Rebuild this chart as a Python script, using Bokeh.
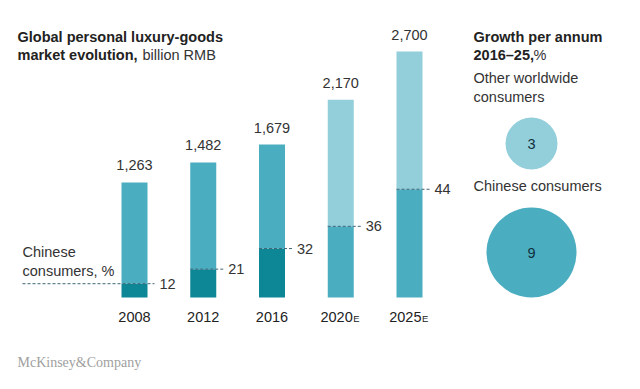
from bokeh.plotting import figure
from bokeh.models import Range1d, ColumnDataSource
from bokeh.core.properties import value
from bokeh.embed import file_html
from bokeh.resources import INLINE

# ---- data ----
years = ["2008", "2012", "2016", "2020", "2025"]
is_estimate = [False, False, False, True, True]
totals = [1263, 1482, 1679, 2170, 2700]          # billion RMB
chinese_share = [12, 21, 32, 36, 44]              # % of total
total_labels = ["1,263", "1,482", "1,679", "2,170", "2,700"]
growth_groups = ["Other worldwide consumers", "Chinese consumers"]
growth_values = [3, 9]                            # % per annum 2016-25

# ---- layout constants (pixels) ----
W, H = 624, 373
SLOT = 68.75          # px per bar slot
X_FIRST = 134         # px of first bar centre
BASE_PX = 297         # px (from top) of y = 0
VPP = 2700 / 246      # value per pixel
BAR_W = 26 / SLOT
SH = -5               # baseline correction for alphabetic texts

def xd(px):
    return (px - X_FIRST) / SLOT

def yd(py):
    return (BASE_PX - py) * VPP

DARK = "#0d8796"
MED = "#4badc0"
LIGHT = "#93cedb"
TXT = "#333333"
BOLD_TXT = "#222222"
FONT = value("Liberation Sans")
FS = "14.5px"

p = figure(width=W, height=H, x_range=Range1d(xd(0), xd(W)), y_range=Range1d(yd(H), yd(0)),
           x_axis_type=None, y_axis_type=None, toolbar_location=None, output_backend="svg",
           min_border=0, outline_line_color=None)
p.grid.visible = False
p.background_fill_color = "white"

xs = list(range(len(years)))
split = [t * s / 100 for t, s in zip(totals, chinese_share)]
src = ColumnDataSource(dict(
    x=xs, total=totals, split=split, zero=[0] * len(xs),
    top_col=[LIGHT if e else MED for e in is_estimate],
    bot_col=[MED if e else DARK for e in is_estimate],
    tlab=total_labels, share=[str(s) for s in chinese_share],
    year=years,
))

p.vbar(x="x", width=BAR_W, bottom="zero", top="split", fill_color="bot_col", line_color=None, source=src)
p.vbar(x="x", width=BAR_W, bottom="split", top="total", fill_color="top_col", line_color=None, source=src)

# dashed share lines
x0s = [x - BAR_W / 2 for x in xs]
x0s[0] = xd(22)
x1s = [x + BAR_W / 2 + 7 / SLOT for x in xs]
p.segment(x0=x0s, y0=split, x1=x1s, y1=split, line_color="#3f6676", line_width=1, line_dash="3 2")

# share labels
p.text(x="x", y="split", text="share", source=src, x_offset=25, text_align="left",
       text_baseline="middle", text_font=FONT, text_font_size=FS, text_color=TXT)

# total labels
p.text(x="x", y="total", text="tlab", source=src, y_offset=-12 + SH, text_align="center",
       text_baseline="alphabetic", text_font=FONT, text_font_size=FS, text_color=TXT)

# year labels
act = [i for i, e in enumerate(is_estimate) if not e]
est = [i for i, e in enumerate(is_estimate) if e]
p.text(x=act, y=[0] * len(act), text=[years[i] for i in act], y_offset=24 + SH, text_align="center",
       text_baseline="alphabetic", text_font=FONT, text_font_size=FS, text_color=BOLD_TXT)
p.text(x=est, y=[0] * len(est), text=[years[i] for i in est], y_offset=24 + SH, x_offset=12,
       text_align="right", text_baseline="alphabetic", text_font=FONT, text_font_size=FS,
       text_color=BOLD_TXT)
p.text(x=est, y=[0] * len(est), text=["E"] * len(est), y_offset=24 + SH + 1.5, x_offset=12.5,
       text_align="left", text_baseline="alphabetic", text_font=FONT, text_font_size="9.5px",
       text_color=BOLD_TXT)

# "Chinese consumers, %" label
p.text(x=[xd(22)] * 2, y=[yd(256 + SH), yd(275.7 + SH)], text=["Chinese", "consumers, %"],
       text_align="left", text_baseline="alphabetic", text_font=FONT, text_font_size=FS, text_color=TXT)

# left title
p.text(x=[xd(17)] * 2, y=[yd(41 + SH), yd(59.5 + SH)],
       text=["Global personal luxury-goods", "market evolution,"],
       text_align="left", text_baseline="alphabetic", text_font=FONT, text_font_size=FS,
       text_font_style="bold", text_color=BOLD_TXT)
p.text(x=[xd(142)], y=[yd(59.5 + SH)], text=["billion RMB"], text_align="left", text_baseline="alphabetic",
       text_font=FONT, text_font_size=FS, text_color=TXT)

# right title
p.text(x=[xd(473)] * 2, y=[yd(41 + SH), yd(59.5 + SH)], text=["Growth per annum", "2016\u201325,"],
       text_align="left", text_baseline="alphabetic", text_font=FONT, text_font_size=FS,
       text_font_style="bold", text_color=BOLD_TXT)
p.text(x=[xd(533)], y=[yd(59.5 + SH)], text=["%"], text_align="left", text_baseline="alphabetic",
       text_font=FONT, text_font_size=FS, text_color=TXT)

p.text(x=[xd(473)] * 3, y=[yd(82 + SH), yd(101.5 + SH), yd(190.5 + SH)],
       text=["Other worldwide", "consumers", "Chinese consumers"], text_align="left",
       text_baseline="alphabetic", text_font=FONT, text_font_size=FS, text_color=TXT)

# growth bubbles (area proportional to value)
cx = [xd(531)] * 2
cy = [yd(143), yd(252)]
sizes = [30 * v ** 0.5 for v in growth_values]
p.scatter(x=cx, y=cy, size=sizes, fill_color=[LIGHT, MED], line_color=None)
p.text(x=cx, y=cy, text=[str(v) for v in growth_values], text_align="center", text_baseline="middle",
       text_font=FONT, text_font_size=FS, text_color="#10303d")

# footer
p.text(x=[xd(17)], y=[yd(367 + SH)], text=["McKinsey&Company"], text_align="left",
       text_baseline="alphabetic", text_font=value("Liberation Serif"), text_font_size="14px",
       text_color="#a0a0a0")

open("out.html", "w").write(file_html(p, INLINE))
